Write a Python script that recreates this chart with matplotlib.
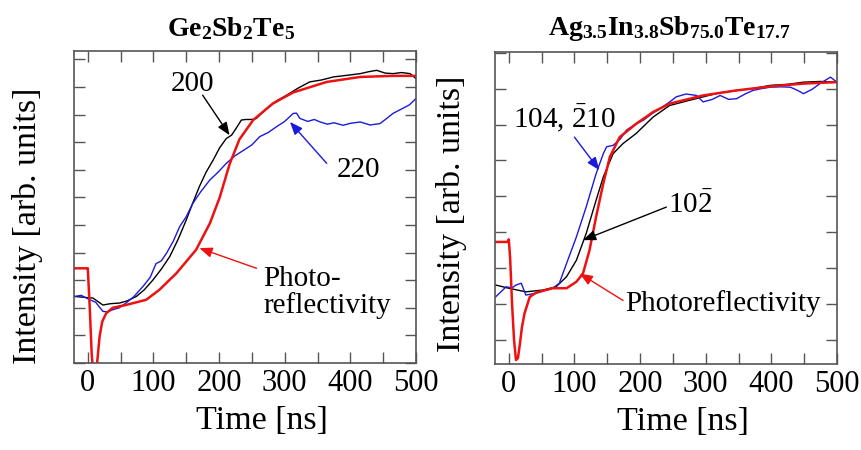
import matplotlib
matplotlib.use("Agg")
import matplotlib.pyplot as plt
import numpy as np

plt.rcParams['font.family'] = ['Liberation Serif', 'DejaVu Serif']
plt.rcParams['mathtext.fontset'] = 'custom'
plt.rcParams['mathtext.rm'] = 'Liberation Serif'
plt.rcParams['mathtext.it'] = 'Liberation Serif:italic'
plt.rcParams['mathtext.bf'] = 'Liberation Serif:bold'

# ---- Ge2Sb2Te5 ----
gst_t_pr = [-20, -1, 0, 3, 6, 9, 12, 15, 18, 22, 28, 38, 58, 89, 109, 135, 165, 186,
            201, 216, 231, 252, 282, 313, 364, 415, 465, 500]
gst_pr = [3.43, 3.43, 3.43, 2.0, 0.3, -0.5, -0.5, 0.2, 0.96, 1.5, 1.8, 2.0, 2.1, 2.29,
          2.65, 3.25, 4.1, 5.06, 6.0, 7.2, 8.1, 8.8, 9.4, 9.8, 10.18, 10.36, 10.4, 10.4]

gst_t_200 = [-20, 8, 23, 35, 48, 60, 74, 86, 99, 112, 125, 138, 150, 160, 170, 180, 191,
             201, 211, 219, 226, 234, 241, 250, 257, 265, 272, 288, 303, 320, 338, 356,
             374, 395, 415, 428, 440, 453, 465, 478, 491, 500]
gst_200 = [2.41, 2.35, 2.1, 2.15, 2.17, 2.25, 2.41, 2.65, 3.0, 3.4, 3.86, 4.5, 5.18, 5.8,
           6.39, 6.9, 7.35, 7.8, 8.13, 8.25, 8.5, 8.8, 8.82, 8.82, 8.86, 9.05, 9.2, 9.5,
           9.7, 9.95, 10.18, 10.25, 10.36, 10.42, 10.48, 10.55, 10.6, 10.5, 10.48, 10.52,
           10.48, 10.3]

gst_t_220 = [-20, -10, 3, 12, 23, 30, 38, 48, 58, 70, 84, 95, 104, 112, 120, 130, 140,
             150, 160, 172, 186, 198, 211, 224, 237, 250, 262, 275, 287, 300, 313, 318,
             323, 335, 345, 354, 365, 375, 389, 400, 415, 430, 445, 455, 465, 478, 490, 500]
gst_220 = [2.41, 2.45, 2.29, 2.2, 1.87, 1.85, 1.93, 2.0, 2.17, 2.4, 2.77, 3.1, 3.6, 3.7,
           3.98, 4.4, 4.94, 5.3, 5.78, 6.2, 6.63, 6.9, 7.23, 7.5, 7.7, 7.9, 8.2, 8.35,
           8.55, 8.75, 9.04, 9.05, 8.86, 8.75, 8.82, 8.73, 8.65, 8.7, 8.61, 8.68, 8.73,
           8.62, 8.67, 8.85, 9.04, 9.2, 9.35, 9.58]

# ---- Ag3.5In3.8Sb75.0Te17.7 ----
ais_t_pr = [-20, -2, 0, 2, 5, 8, 11, 14, 17, 20, 24, 32, 42, 67, 88, 103, 113, 123, 133,
            144, 154, 169, 194, 220, 245, 296, 347, 398, 449, 500]
ais_pr = [2.73, 2.73, 2.8, 2.3, 1.0, 0.0, -0.56, -0.5, -0.1, 0.35, 0.74, 1.2, 1.32, 1.44,
          1.44, 1.62, 1.85, 2.5, 3.43, 4.36, 5.1, 5.65, 6.02, 6.35, 6.58, 6.81, 6.95,
          7.06, 7.14, 7.18]

ais_t_102 = [-20, 0, 26, 52, 72, 88, 103, 118, 133, 144, 159, 174, 194, 220, 245, 270,
             296, 320, 347, 372, 398, 425, 449, 475, 500]
ais_102 = [1.53, 1.44, 1.34, 1.39, 1.48, 1.76, 2.22, 2.97, 3.89, 4.54, 5.19, 5.47, 5.75,
           6.21, 6.53, 6.65, 6.77, 6.88, 6.95, 7.0, 7.09, 7.12, 7.18, 7.2, 7.18]

ais_t_104 = [-20, -4, 5, 11, 19, 26, 35, 42, 55, 67, 77, 88, 103, 118, 133, 144, 149, 159,
             170, 179, 192, 205, 218, 230, 243, 255, 270, 286, 296, 310, 322, 335, 347,
             360, 372, 385, 398, 414, 429, 440, 449, 462, 474, 490, 500]
ais_104 = [1.2, 1.48, 1.45, 1.53, 1.58, 1.25, 1.28, 1.3, 1.38, 1.44, 1.58, 2.13, 2.87,
           3.71, 4.63, 5.19, 5.38, 5.42, 5.6, 5.84, 6.0, 6.12, 6.3, 6.44, 6.6, 6.77, 6.85,
           6.81, 6.63, 6.7, 6.81, 6.7, 6.72, 6.85, 6.95, 7.0, 7.04, 7.05, 7.04, 6.95,
           6.86, 6.98, 7.14, 7.32, 7.18]

x_ticks = [0, 100, 200, 300, 400, 500]

fig = plt.figure(figsize=(8.61, 4.5), dpi=100)
ax1 = fig.add_axes([74/861, 1 - 363/450, 342/861, 312/450])
ax2 = fig.add_axes([495/861, 1 - 364/450, 342/861, 312/450])

spine_col = '#555555'


def style_axes(ax, ylim, ymaj):
    ax.set_xlim(-21, 500)
    ax.set_ylim(*ylim)
    ax.set_xticks(x_ticks)
    ax.set_xticks(np.arange(50, 500, 100), minor=True)
    ax.set_yticks(ymaj)
    ax.tick_params(which='both', direction='in', top=True, right=True,
                   length=8, width=1, color=spine_col, labelleft=False,
                   labelsize=22, pad=4)
    for s in ax.spines.values():
        s.set_color(spine_col)
        s.set_linewidth(1.2)
    ax.set_xlabel('Time [ns]', fontsize=24.5, labelpad=0)
    ax.set_ylabel('Intensity [arb. units]', fontsize=24.5)


arrow_kw = "-|>,head_length=0.55,head_width=0.22"


def arrow(ax, start, end, col):
    ax.annotate('', xy=end, xytext=start,
                arrowprops=dict(arrowstyle=arrow_kw, color=col, lw=1,
                                mutation_scale=14, shrinkA=0, shrinkB=0))


# left panel
ax1.plot(gst_t_200, gst_200, color='black', lw=1)
ax1.plot(gst_t_220, gst_220, color='#1a1adc', lw=1)
ax1.plot(gst_t_pr, gst_pr, color='#ee1111', lw=1.8)
style_axes(ax1, (0, 11.3), np.arange(0, 12))
ax1.xaxis.set_label_coords(0.55, -0.135)
ax1.yaxis.set_label_coords(-0.09, 0.44)
ax1.text(0.46, 1.03, r'$\mathbf{Ge_2Sb_2Te_5}$', transform=ax1.transAxes,
         ha='center', va='bottom', fontsize=20)

ax1.text(160, 10.1, '200', fontsize=21, ha='center', va='center')
arrow(ax1, (175, 9.7), (216, 8.25), 'black')
ax1.text(412, 7.0, '220', fontsize=21, ha='center', va='center')
arrow(ax1, (364, 7.23), (308, 8.73), '#1a1adc')
ax1.text(267, 2.56, 'Photo-\nreflectivity', fontsize=21, ha='left', va='center',
         linespacing=1.0)
arrow(ax1, (257, 3.43), (170, 4.16), '#ee1111')

# right panel
ax2.plot(ais_t_102, ais_102, color='black', lw=1)
ax2.plot(ais_t_104, ais_104, color='#1a1adc', lw=1)
ax2.plot(ais_t_pr, ais_pr, color='#ee1111', lw=1.8)
style_axes(ax2, (-0.67, 8.02), np.arange(0, 9))
ax2.xaxis.set_label_coords(0.55, -0.135)
ax2.yaxis.set_label_coords(-0.082, 0.48)
ax2.text(0.51, 1.03, r'$\mathbf{Ag_{3.5}In_{3.8}Sb_{75.0}Te_{17.7}}$',
         transform=ax2.transAxes, ha='center', va='bottom', fontsize=20)

ax2.text(6, 6.16, r'104, $\bar{2}$10', fontsize=21, ha='left', va='center')
arrow(ax2, (100, 5.65), (138, 4.73), '#1a1adc')
ax2.text(243, 3.75, r'10$\bar{2}$', fontsize=21, ha='left', va='center')
arrow(ax2, (240, 3.7), (113, 2.78), 'black')
ax2.text(177, 1.02, 'Photoreflectivity', fontsize=21, ha='left', va='center')
arrow(ax2, (174, 1.1), (108, 1.85), '#ee1111')

fig.savefig('out.png', dpi=100)
